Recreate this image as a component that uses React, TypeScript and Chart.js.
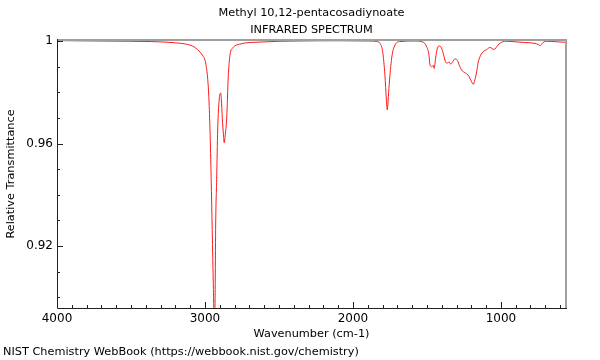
import React, { useEffect, useRef } from 'react';
import { Chart, registerables } from 'chart.js';

Chart.register(...registerables);

const titleLines = ['Methyl 10,12-pentacosadiynoate', 'INFRARED SPECTRUM'];
const xAxisTitle = 'Wavenumber (cm-1)';
const yAxisTitle = 'Relative Transmittance';
const footerText = 'NIST Chemistry WebBook (https://webbook.nist.gov/chemistry)';

const wavenumbers = [
  4000, 3900, 3710, 3510, 3370, 3270, 3200, 3150, 3100, 3068, 3034, 3014, 3000,
  2982, 2973, 2966, 2958, 2951, 2943, 2936, 2931, 2928, 2921, 2914, 2904, 2894,
  2889, 2883, 2875, 2870, 2863, 2853, 2843, 2831, 2809, 2764, 2628, 2378, 2088,
  1885, 1838, 1818, 1799, 1784, 1774, 1768, 1762, 1755, 1738, 1716, 1682, 1581,
  1527, 1502, 1486, 1480, 1468, 1457, 1451, 1441, 1432, 1419, 1405, 1390, 1374,
  1363, 1351, 1340, 1326, 1311, 1295, 1284, 1266, 1248, 1232, 1214, 1198, 1187,
  1176, 1164, 1153, 1142, 1122, 1095, 1074, 1047, 1020, 993, 959, 905, 838, 770,
  747, 733, 716, 689, 622, 560,
];

const transmittance = [
  1.0002, 1.0001, 1.0, 0.9999, 0.9998, 0.9996, 0.9993, 0.999, 0.9984, 0.9975, 0.9957, 0.9942, 0.9926,
  0.9856, 0.977, 0.9653, 0.9459, 0.9264, 0.903, 0.885, 0.903, 0.9264, 0.9459, 0.9653, 0.977, 0.9797,
  0.977, 0.97, 0.9634, 0.9603, 0.9634, 0.97, 0.9856, 0.9945, 0.9975, 0.9988, 0.9996, 1.0, 1.0001,
  1.0, 0.9998, 0.9992, 0.9958, 0.9868, 0.977, 0.9731, 0.977, 0.9829, 0.9934, 0.9984, 0.9998, 1.0,
  0.9996, 0.9978, 0.9945, 0.991, 0.99, 0.9905, 0.9893, 0.9934, 0.9965, 0.9981, 0.9977, 0.9952, 0.9919,
  0.9913, 0.9919, 0.991, 0.9919, 0.993, 0.9926, 0.991, 0.9887, 0.9878, 0.9873, 0.986, 0.9841, 0.9831,
  0.9848, 0.988, 0.9918, 0.9938, 0.9957, 0.9967, 0.9975, 0.9967, 0.9984, 0.9996, 0.9999, 0.9997, 0.9994, 0.9991,
  0.9986, 0.9982, 0.9994, 0.9999, 0.9997, 0.9995,
];

const xMajorTicks = [4000, 3000, 2000, 1000];
const xTickLabels = ['4000', '3000', '2000', '1000'];
const xMinorTicks = [3900, 3800, 3700, 3600, 3500, 3400, 3300, 3200, 3100, 2900, 2800, 2700, 2600, 2500, 2400, 2300, 2200, 2100, 1900, 1800, 1700, 1600, 1500, 1400, 1300, 1200, 1100, 900, 800, 700, 600];
const yMajorTicks = [1, 0.96, 0.92];
const yTickLabels = ['1', '0.96', '0.92'];
const yMinorTicks = [0.99, 0.98, 0.97, 0.95, 0.94, 0.93, 0.91, 0.9];

const X_MIN = 560;
const X_MAX = 4000;
const Y_MIN = 0.8958;
const Y_MAX = 1.0004;

const FONT = '"DejaVu Sans", sans-serif';
const TEXT_SIZE = 11.3;

const decorPlugin = {
  id: 'decor',
  afterDraw(chart: any) {
    const { ctx, chartArea: a, scales } = chart;
    const xs = scales.x;
    const ys = scales.y;
    ctx.save();
    // tick marks (inward)
    ctx.strokeStyle = '#222';
    ctx.lineWidth = 1;
    const drawX = (v: number, len: number) => {
      const px = Math.round(xs.getPixelForValue(v)) + 0.5;
      ctx.beginPath();
      ctx.moveTo(px, a.bottom);
      ctx.lineTo(px, a.bottom - len);
      ctx.stroke();
    };
    const drawY = (v: number, len: number) => {
      const py = Math.round(ys.getPixelForValue(v)) + 0.5;
      ctx.beginPath();
      ctx.moveTo(a.left, py);
      ctx.lineTo(a.left + len, py);
      ctx.stroke();
    };
    xMinorTicks.forEach((v) => drawX(v, 3));
    xMajorTicks.forEach((v) => drawX(v, 6));
    yMinorTicks.forEach((v) => drawY(v, 3));
    yMajorTicks.forEach((v) => drawY(v, 6));

    // frame: top & right gray, left & bottom dark
    ctx.strokeStyle = '#a0a0a0';
    ctx.lineWidth = 2;
    ctx.beginPath();
    ctx.moveTo(a.left, a.top);
    ctx.lineTo(a.right, a.top);
    ctx.lineTo(a.right, a.bottom);
    ctx.stroke();
    ctx.strokeStyle = '#222';
    ctx.lineWidth = 1;
    ctx.beginPath();
    ctx.moveTo(Math.round(a.left) + 0.5, a.top - 1);
    ctx.lineTo(Math.round(a.left) + 0.5, Math.round(a.bottom) + 0.5);
    ctx.lineTo(a.right + 1, Math.round(a.bottom) + 0.5);
    ctx.stroke();

    // titles and footer
    ctx.fillStyle = '#000';
    ctx.font = `${TEXT_SIZE}px ${FONT}`;
    ctx.textAlign = 'center';
    ctx.textBaseline = 'middle';
    const cx = (a.left + a.right) / 2;
    ctx.fillText(titleLines[0], cx, 13.5);
    ctx.fillText(titleLines[1], cx, 30.5);
    ctx.textAlign = 'left';
    ctx.fillText(footerText, 3, 352.5);
    ctx.restore();
  },
};

export default function App() {
  const canvasRef = useRef<HTMLCanvasElement | null>(null);

  useEffect(() => {
    const canvas = canvasRef.current;
    if (!canvas) return;
    const points = wavenumbers.map((w, i) => ({ x: w, y: transmittance[i] }));
    const chart = new Chart(canvas, {
      type: 'line',
      data: {
        datasets: [
          {
            data: points,
            borderColor: '#ff1a1a',
            borderWidth: 1,
            pointRadius: 0,
            fill: false,
            cubicInterpolationMode: 'monotone',
          },
        ],
      },
      options: {
        animation: false,
        responsive: false,
        devicePixelRatio: 1,
        parsing: false,
        layout: { padding: { top: 40, right: 34, left: 0, bottom: 0 } },
        plugins: {
          legend: { display: false },
          title: { display: false },
          tooltip: { enabled: false },
        },
        scales: {
          x: {
            type: 'linear',
            reverse: true,
            min: X_MIN,
            max: X_MAX,
            grid: { display: false, drawTicks: false },
            border: { display: false },
            afterBuildTicks: (scale: any) => {
              scale.ticks = xMajorTicks.map((v) => ({ value: v }));
            },
            afterFit: (scale: any) => {
              scale.height = 52;
            },
            ticks: {
              autoSkip: false,
              maxRotation: 0,
              padding: 4,
              color: '#000',
              font: { family: FONT, size: 12 },
              callback: (v: any) => {
                const i = xMajorTicks.indexOf(Number(v));
                return i >= 0 ? xTickLabels[i] : '';
              },
            },
            title: {
              display: true,
              text: xAxisTitle,
              color: '#000',
              font: { family: FONT, size: TEXT_SIZE },
              padding: { top: 0, bottom: 19 },
            },
          },
          y: {
            type: 'linear',
            min: Y_MIN,
            max: Y_MAX,
            grid: { display: false, drawTicks: false },
            border: { display: false },
            afterBuildTicks: (scale: any) => {
              scale.ticks = yMajorTicks.map((v) => ({ value: v }));
            },
            afterFit: (scale: any) => {
              scale.width = 57;
            },
            ticks: {
              autoSkip: false,
              padding: 4,
              color: '#000',
              font: { family: FONT, size: 12 },
              callback: (v: any) => {
                const i = yMajorTicks.findIndex((m) => Math.abs(m - Number(v)) < 1e-6);
                return i >= 0 ? yTickLabels[i] : '';
              },
            },
            title: {
              display: true,
              text: yAxisTitle,
              color: '#000',
              font: { family: FONT, size: TEXT_SIZE },
              padding: { top: 4, bottom: 0 },
            },
          },
        },
      },
      plugins: [decorPlugin],
    } as any);
    return () => chart.destroy();
  }, []);

  return (
    <div style={{ position: 'fixed', left: 0, top: 0, width: 600, height: 360, background: '#fff' }}>
      <canvas ref={canvasRef} width={600} height={360} style={{ width: 600, height: 360 }} />
    </div>
  );
}
